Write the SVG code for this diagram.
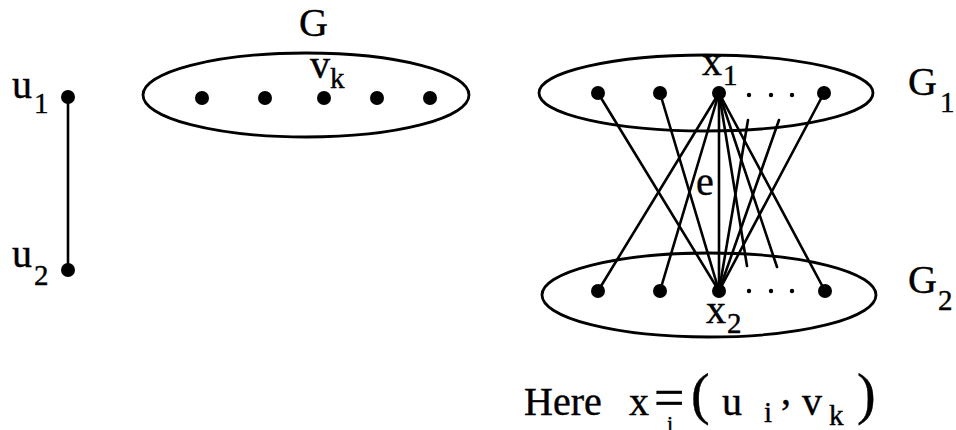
<svg xmlns="http://www.w3.org/2000/svg" width="956" height="430" viewBox="0 0 956 430">
<style>
  .bg{fill:#ffffff}
  .ell{fill:none;stroke:#000;stroke-width:2.8}
  .dot{fill:#000}
  .sm{fill:#000}
  .edge{stroke:#000;stroke-width:2.6;fill:none;stroke-linecap:round}
  text{font-family:"Liberation Serif","Times New Roman",serif;fill:#000;stroke:#000;stroke-width:0.4}
  .m{font-size:40px}
  .s{font-size:29px}
  .p{font-size:56px}
</style>
<rect class="bg" x="0" y="0" width="956" height="430"/>

<!-- Graph H (K2) -->
<g id="edges-left">
  <line class="edge" x1="68" y1="97" x2="68" y2="270"/>
</g>
<g id="u1">
  <circle class="dot" cx="68" cy="97" r="7"/>
  <text class="m" x="12" y="98">u</text>
  <text class="s" x="34" y="113">1</text>
</g>
<g id="u2">
  <circle class="dot" cx="68" cy="270" r="7"/>
  <text class="m" x="12" y="267">u</text>
  <text class="s" x="34" y="285">2</text>
</g>

<!-- Graph G -->
<g id="G">
  <ellipse class="ell" cx="306" cy="95" rx="163" ry="42"/>
  <text class="m" x="299" y="36">G</text>
</g>
<g id="g-v1"><circle class="dot" cx="202" cy="98" r="7"/></g>
<g id="g-v2"><circle class="dot" cx="265" cy="98" r="7"/></g>
<g id="g-vk">
  <circle class="dot" cx="324" cy="98" r="7"/>
  <text class="m" x="310" y="78">v</text>
  <text class="s" x="330" y="88">k</text>
</g>
<g id="g-v4"><circle class="dot" cx="377" cy="98" r="7"/></g>
<g id="g-v5"><circle class="dot" cx="430" cy="98" r="7"/></g>

<!-- Connectors between G1 and G2 -->
<g id="connectors">
  <line class="edge" x1="598" y1="93" x2="719" y2="291"/>
  <line class="edge" x1="660" y1="93" x2="719" y2="291"/>
  <line class="edge" x1="824" y1="93" x2="719" y2="291"/>
  <line class="edge" x1="748" y1="120" x2="719" y2="291"/>
  <line class="edge" x1="779" y1="120" x2="719" y2="291"/>
  <line class="edge" x1="719" y1="93" x2="598" y2="291"/>
  <line class="edge" x1="719" y1="93" x2="660" y2="291"/>
  <line class="edge" x1="719" y1="93" x2="719" y2="291"/>
  <line class="edge" x1="719" y1="93" x2="825" y2="291"/>
  <line class="edge" x1="719" y1="93" x2="747" y2="266"/>
  <line class="edge" x1="719" y1="93" x2="777" y2="267"/>
  <text class="m" x="696" y="195">e</text>
</g>

<!-- G1 -->
<g id="G1">
  <ellipse class="ell" cx="706" cy="93" rx="167" ry="38"/>
  <text class="m" x="908" y="95">G</text>
  <text class="s" x="940" y="112">1</text>
</g>
<g id="g1-v1"><circle class="dot" cx="598" cy="93" r="7"/></g>
<g id="g1-v2"><circle class="dot" cx="660" cy="93" r="7"/></g>
<g id="x1">
  <circle class="dot" cx="719" cy="93" r="7"/>
  <text class="m" x="702" y="75">x</text>
  <text class="s" x="723" y="85">1</text>
</g>
<g id="g1-dots">
  <circle class="sm" cx="749" cy="95" r="2.2"/>
  <circle class="sm" cx="771" cy="95" r="2.2"/>
  <circle class="sm" cx="792" cy="95" r="2.2"/>
</g>
<g id="g1-vn"><circle class="dot" cx="824" cy="93" r="7"/></g>

<!-- G2 -->
<g id="G2">
  <ellipse class="ell" cx="709" cy="295" rx="167" ry="42"/>
  <text class="m" x="908" y="293">G</text>
  <text class="s" x="938" y="310">2</text>
</g>
<g id="g2-v1"><circle class="dot" cx="598" cy="291" r="7"/></g>
<g id="g2-v2"><circle class="dot" cx="660" cy="291" r="7"/></g>
<g id="x2">
  <circle class="dot" cx="719" cy="291" r="7"/>
  <text class="m" x="706" y="323">x</text>
  <text class="s" x="727" y="333">2</text>
</g>
<g id="g2-dots">
  <circle class="sm" cx="749" cy="291" r="2.2"/>
  <circle class="sm" cx="771" cy="291" r="2.2"/>
  <circle class="sm" cx="792" cy="291" r="2.2"/>
</g>
<g id="g2-vn"><circle class="dot" cx="825" cy="291" r="7"/></g>

<!-- Caption -->
<g id="caption">
  <text class="m" x="524" y="415">Here</text>
  <text class="m" x="629" y="415">x</text>
  <text x="667" y="431" style="font-size:22px">i</text>
  <text x="654" y="416" style="font-size:54px">=</text>
  <text class="p" x="691" y="413">(</text>
  <text class="m" x="722" y="415">u</text>
  <text class="s" x="764" y="422">i</text>
  <text class="m" x="781" y="404">,</text>
  <text class="m" x="802" y="415">v</text>
  <text class="s" x="829" y="425">k</text>
  <text class="p" x="857" y="413">)</text>
</g>
</svg>
